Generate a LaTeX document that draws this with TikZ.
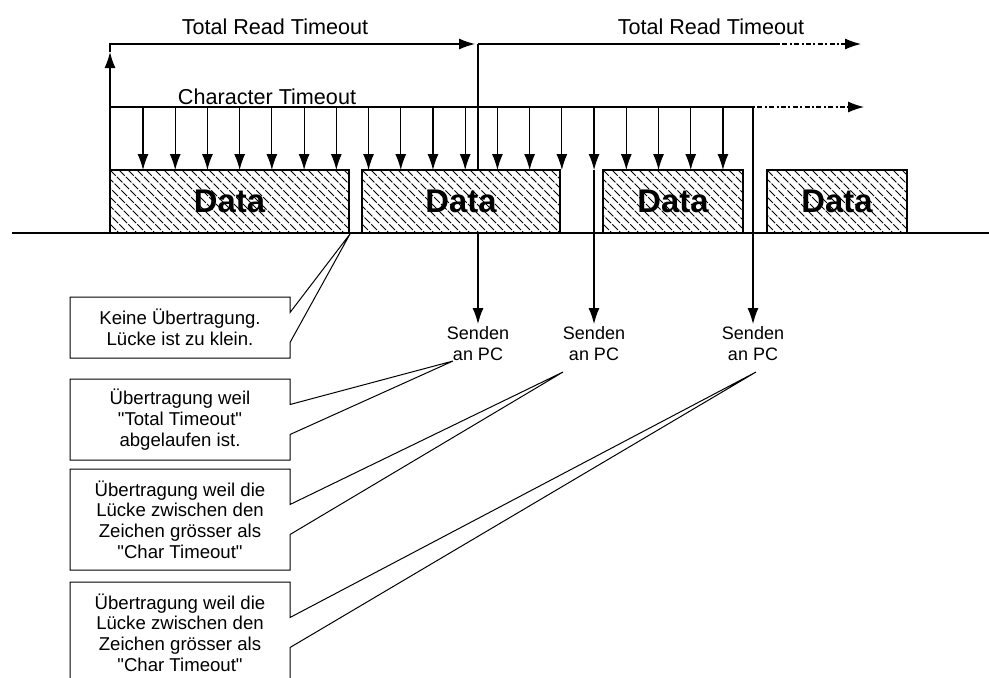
\documentclass[tikz,border=0pt]{standalone}
\usepackage{fontspec}
\setmainfont{Liberation Sans}[Ligatures=TeXOff]
\usetikzlibrary{arrows.meta,calc}

\begin{document}
\begin{tikzpicture}[
    x=0.5pt, y=-0.5pt,
    line/.style={line width=0.6pt},
    arrow/.style={-{Latex[length=8pt,width=5.5pt]}, line width=0.6pt},
    contdash/.style={dash pattern=on 1pt off 1.2pt on 2.5pt off 1.2pt},
    hatchline/.style={line width=0.4pt, dash pattern=on 4pt off 0.8pt},
    databox/.style={draw, line width=0.6pt, fill=white, inner sep=0pt, outer sep=0pt, minimum height=31.5pt,
        font=\fontsize{16.4}{18}\selectfont\bfseries,
        path picture={\foreach \k in {0,...,36}
            \draw[hatchline] ([xshift=\k*4.5pt-36pt]path picture bounding box.north west) -- ++(36pt,-36pt);}},
    toplabel/.style={font=\fontsize{10.8}{13}\selectfont, inner sep=1pt},
    sendlabel/.style={anchor=north, align=center, inner sep=1pt, font=\fontsize{9}{10.5}\selectfont},
    notebox/.style={minimum width=110pt, inner sep=0pt, outer sep=0pt, align=center, font=\fontsize{9.3}{10.35}\selectfont},
    callout/.style={line width=0.5pt}
]
\useasboundingbox (0,0) rectangle (989,677);

% time axis and data blocks
\coordinate (axisL) at (12,233);
\coordinate (axisR) at (989,233);
\draw[line] (axisL) -- (axisR);

\node[databox, minimum width=119.5pt] (d1) at (229.5,201.5) {Data};
\node[databox, minimum width=99pt] (d2) at (461,201.5) {Data};
\node[databox, minimum width=70pt] (d3) at (673,201.5) {Data};
\node[databox, minimum width=70pt] (d4) at (837,201.5) {Data};

% total read timeout
\coordinate (tot0) at (110,44);
\coordinate (tot1) at (478,44);
\coordinate (tot2) at (778,44);
\coordinate (tot3) at (861,44);
\node[toplabel] (lbtot1) at (275,27) {Total Read Timeout};
\node[toplabel] (lbtot2) at (711,27) {Total Read Timeout};

\draw[arrow] (d1.north west) -- ([yshift=-4pt]tot0);
\draw[arrow] ([yshift=-4pt]tot0) |- ([xshift=-1.5pt]tot1);
\draw[line] (tot1) -- (tot1 |- d2.north);
\draw[line] (tot1) -- (tot2);
\draw[arrow, contdash] (tot2) -- (tot3);

% character timeout
\coordinate (chr0) at (110,107);
\coordinate (chr1) at (753,107);
\coordinate (chr2) at (864,107);
\node[toplabel] (lbchr) at (267,97) {Character Timeout};

\draw[line] (chr0) -- (chr1);
\draw[arrow, contdash] (chr1) -- (chr2);
\foreach \i in {0,...,18}
    \draw[arrow] ($(chr0)+({33+32.22*\i},0)$) -- ++(0,63);

% send to PC
\node[sendlabel] (pc1) at (478,324) {Senden\\an PC};
\node[sendlabel] (pc2) at (594,324) {Senden\\an PC};
\node[sendlabel] (pc3) at (753,324) {Senden\\an PC};

\draw[arrow] (tot1 |- d2.south) -- (pc1);
\draw[arrow] (pc2 |- d2.north) -- (pc2);
\draw[arrow] (chr1) -- (pc3);

% notes
\node[notebox, minimum height=30.5pt] (n1) at (180,327.5) {Keine Übertragung.\\Lücke ist zu klein.};
\node[notebox, minimum height=40.5pt] (n2) at (180,419.5) {Übertragung weil\\"Total Timeout"\\abgelaufen ist.};
\node[notebox, minimum height=50.5pt] (n3) at (180,519.5) {Übertragung weil die\\Lücke zwischen den\\Zeichen grösser als\\"Char Timeout"};
\node[notebox, minimum height=50.5pt] (n4) at (180,632.5) {Übertragung weil die\\Lücke zwischen den\\Zeichen grösser als\\"Char Timeout"};

\coordinate (tip1) at (350,234);
\coordinate (tip2) at (453,361);
\coordinate (tip3) at (563,372);
\coordinate (tip4) at (756,372);

\foreach \n/\t in {n1/tip1, n2/tip2, n3/tip3, n4/tip4}
    \draw[callout] ([yshift=7.5pt]\n.east) -- (\n.north east) -- (\n.north west) -- (\n.south west)
        -- (\n.south east) -- ([yshift=-7.5pt]\n.east) -- (\t) -- cycle;
\end{tikzpicture}
\end{document}
